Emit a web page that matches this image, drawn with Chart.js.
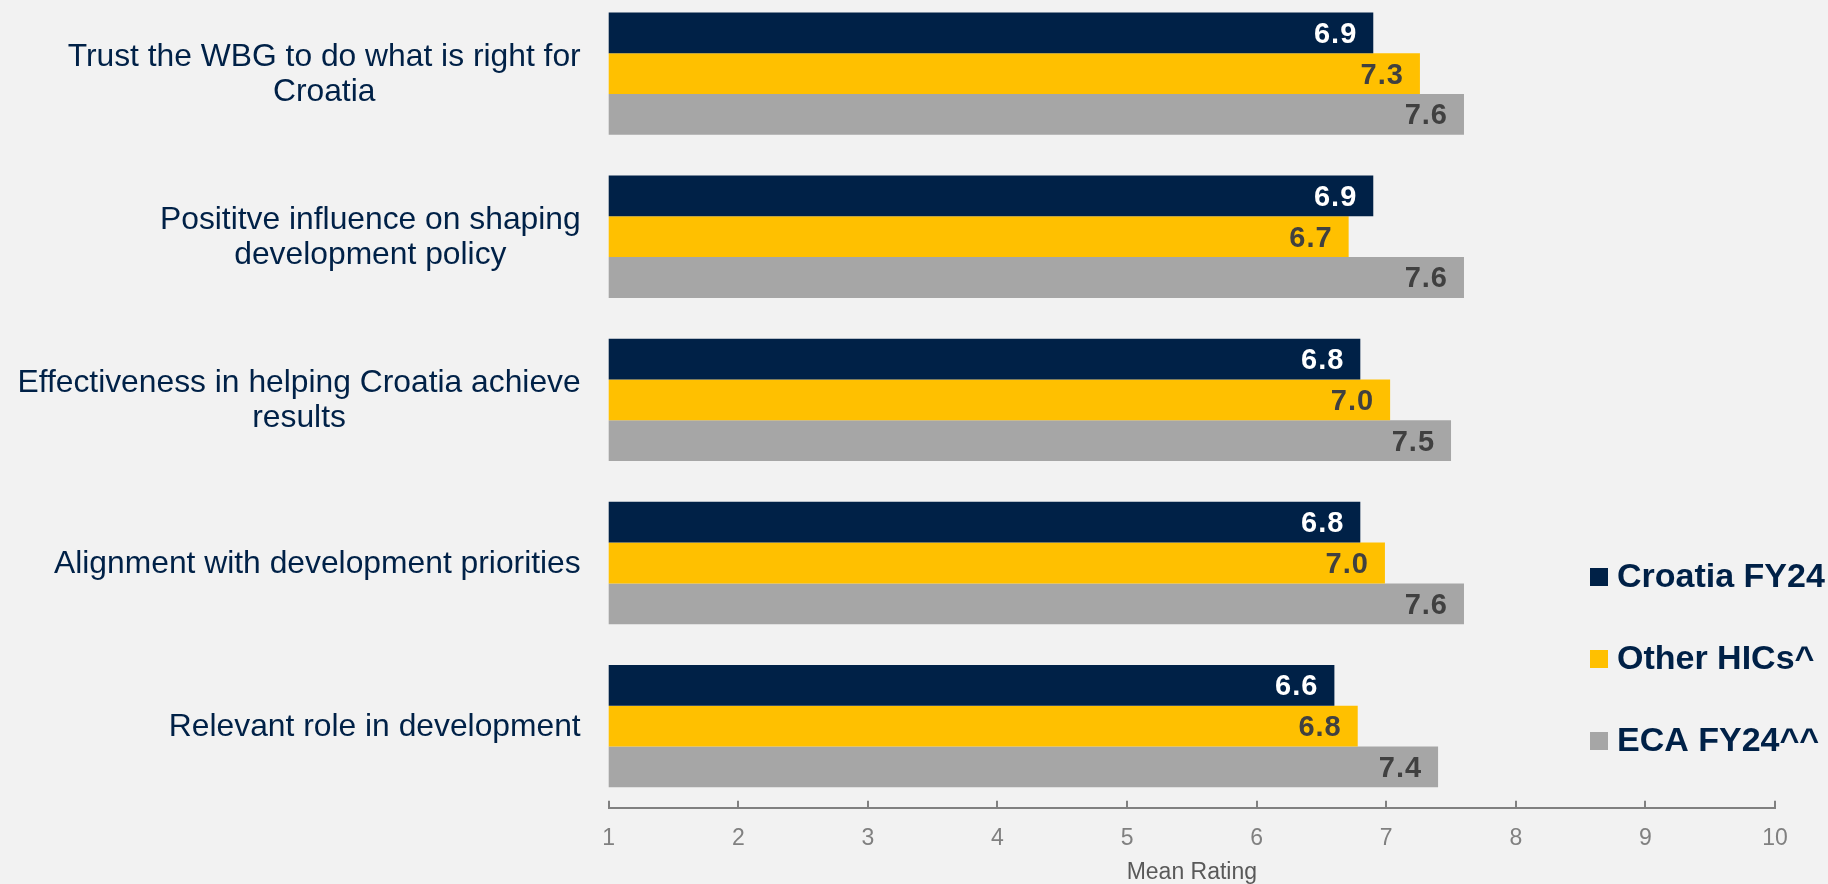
<!DOCTYPE html>
<html>
<head>
<meta charset="utf-8">
<script src="https://cdn.jsdelivr.net/npm/chart.js@4.4.1/dist/chart.umd.min.js"></script>
<style>
  html, body { margin: 0; padding: 0; background: #F2F2F2; overflow: hidden; }
  #wrap { width: 1828px; height: 884px; overflow: hidden; }
  /* the plot starts a few pixels above the page top */
  #ratingChart { display: block; margin-top: -8px; }
</style>
</head>
<body>
<div id="wrap"><canvas id="ratingChart" width="1828" height="892"></canvas></div>
<script>
// chart data
const categories = [
    ['Trust the WBG to do what is right for', 'Croatia'],
    ['Posititve influence on shaping', 'development policy'],
    ['Effectiveness in helping Croatia achieve', 'results'],
    ['Alignment with development priorities'],
    ['Relevant role in development']
];
const seriesNames = ['Croatia FY24', 'Other HICs^', 'ECA FY24^^'];
const croatiaFY24 = [6.9, 6.9, 6.8, 6.8, 6.6];
const otherHICs = [7.26, 6.71, 7.03, 6.99, 6.78];
const ecaFY24 = [7.6, 7.6, 7.5, 7.6, 7.4];
const xTicks = [1, 2, 3, 4, 5, 6, 7, 8, 9, 10];

const FONT = '"Liberation Sans", Arial, sans-serif';
const NAVY = '#002147';
const SHIFT = 8; // canvas is moved up by this much
const barColors = [NAVY, '#FFC000', '#A6A6A6'];
const valueColors = ['#FFFFFF', '#404040', '#404040'];

// value labels inside the bar ends
const valueLabels = {
    id: 'valueLabels',
    afterDatasetsDraw(chart) {
        const ctx = chart.ctx;
        ctx.save();
        ctx.font = 'bold 29px ' + FONT;
        ctx.letterSpacing = '1px';
        ctx.textAlign = 'right';
        ctx.textBaseline = 'middle';
        chart.data.datasets.forEach((ds, di) => {
            chart.getDatasetMeta(di).data.forEach((bar, i) => {
                ctx.fillStyle = valueColors[di];
                ctx.fillText(ds.data[i].toFixed(1), bar.x - 16, bar.y + 2);
            });
        });
        ctx.restore();
    }
};

// category labels: block right aligned, lines centred on each other
const categoryLabels = {
    id: 'categoryLabels',
    afterDraw(chart) {
        const ctx = chart.ctx;
        const yScale = chart.scales.y;
        const right = chart.chartArea.left - 28;
        const lineH = 35;
        ctx.save();
        ctx.font = '31.8px ' + FONT;
        ctx.fillStyle = NAVY;
        ctx.textAlign = 'center';
        ctx.textBaseline = 'middle';
        categories.forEach((lines, i) => {
            const y = yScale.getPixelForTick(i);
            const widest = Math.max(...lines.map(l => ctx.measureText(l).width));
            const cx = right - widest / 2;
            lines.forEach((line, j) => {
                ctx.fillText(line, cx, y + (j - (lines.length - 1) / 2) * lineH + 1);
            });
        });
        ctx.restore();
    }
};

// small tick marks pointing up from the x axis
const axisTicks = {
    id: 'axisTicks',
    afterDraw(chart) {
        const ctx = chart.ctx;
        const xScale = chart.scales.x;
        const y0 = chart.chartArea.bottom;
        ctx.save();
        ctx.strokeStyle = '#808080';
        ctx.lineWidth = 2;
        xTicks.forEach(v => {
            const x = Math.round(xScale.getPixelForValue(v));
            ctx.beginPath();
            ctx.moveTo(x, y0);
            ctx.lineTo(x, y0 - 7);
            ctx.stroke();
        });
        ctx.restore();
    }
};

// legend stacked in the lower right corner
const sideLegend = {
    id: 'sideLegend',
    afterDraw(chart) {
        const ctx = chart.ctx;
        ctx.save();
        ctx.font = 'bold 34px ' + FONT;
        ctx.textAlign = 'left';
        ctx.textBaseline = 'middle';
        chart.data.datasets.forEach((ds, i) => {
            const y = 577 + SHIFT + i * 82;
            ctx.fillStyle = ds.backgroundColor;
            ctx.fillRect(1590, y - 9, 18, 18);
            ctx.fillStyle = NAVY;
            ctx.fillText(ds.label, 1617, y + 1);
        });
        ctx.restore();
    }
};

const seriesValues = [croatiaFY24, otherHICs, ecaFY24];

const ctx = document.getElementById('ratingChart').getContext('2d');
new Chart(ctx, {
    type: 'bar',
    data: {
        labels: categories,
        datasets: seriesNames.map((name, i) => ({
            label: name,
            data: seriesValues[i],
            backgroundColor: barColors[i],
            borderWidth: 0,
            categoryPercentage: 0.75,
            barPercentage: 1.0
        }))
    },
    options: {
        indexAxis: 'y',
        responsive: false,
        animation: false,
        layout: { padding: { top: 0, right: 53, bottom: 0, left: 0 } },
        plugins: {
            legend: { display: false },
            tooltip: { enabled: false }
        },
        scales: {
            x: {
                type: 'linear',
                min: xTicks[0],
                max: xTicks[xTicks.length - 1],
                ticks: {
                    stepSize: 1,
                    color: '#808080',
                    font: { family: FONT, size: 23 },
                    padding: 17
                },
                grid: { display: false, drawTicks: false },
                border: { display: true, color: '#808080', width: 2 },
                title: {
                    display: true,
                    text: 'Mean Rating',
                    color: '#595959',
                    font: { family: FONT, size: 23, lineHeight: 1 },
                    padding: 0
                },
                afterFit: s => { s.height = 76.3; }
            },
            y: {
                type: 'category',
                ticks: { display: false },
                grid: { display: false },
                border: { display: false },
                afterFit: s => { s.width = 608.7; }
            }
        }
    },
    plugins: [valueLabels, categoryLabels, axisTicks, sideLegend]
});
</script>
</body>
</html>
